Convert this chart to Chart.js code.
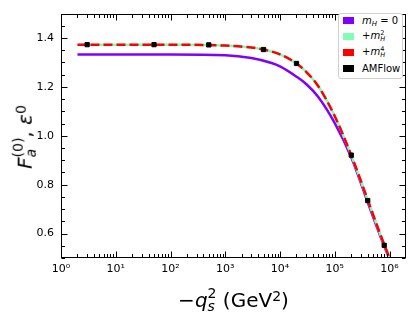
<!DOCTYPE html>
<html>
<head>
<meta charset="utf-8">
<script src="https://cdn.jsdelivr.net/npm/chart.js@4.4.1/dist/chart.umd.min.js"></script>
<style>
body { margin: 0; background: #fff; }
#wrap { position: relative; width: 415px; height: 323px; font-family: "DejaVu Sans", sans-serif; color: #000; }
.xt { position: absolute; left: 61px; width: 345px; top: 287px; text-align: center; font-size: 20px; line-height: 24px; white-space: nowrap; }
.yt { position: absolute; left: 25px; top: 137px; font-size: 20px; line-height: 24px; white-space: nowrap; transform: translate(-50%, -50%) rotate(-90deg); }
.ss { display: inline-block; vertical-align: -0.3em; font-size: 0.7em; line-height: 0.95em; text-align: left; }
.legend { position: absolute; left: 338px; top: 13px; width: 65px; height: 66px; box-sizing: border-box; border: 1px solid #d0d0d0; border-radius: 3px; background: #fff; font-size: 10px; }
.sw { position: absolute; left: 4px; width: 11px; height: 7px; }
.lab { position: absolute; left: 23px; line-height: 12px; white-space: nowrap; }
.lab sub { font-size: 0.7em; vertical-align: -0.3em; line-height: 0; }
</style>
</head>
<body>
<div id="wrap">
  <canvas id="chart" width="415" height="323"></canvas>
  <div class="yt"><i>F</i><span class="ss">(0)<br><i>a</i></span>, <i>ε</i><span class="ss" style="vertical-align:0.45em">0</span></div>
  <div class="xt">−<i>q</i><span class="ss">2<br><i>s</i></span> (GeV<span class="ss" style="vertical-align:0.45em">2</span>)</div>
  <div class="legend">
    <div class="sw" style="top:3px;background:#8000ff"></div>
    <div class="lab" style="top:1px"><i>m</i><sub><i>H</i></sub> = 0</div>
    <div class="sw" style="top:19px;background:#80ffb4"></div>
    <div class="lab" style="top:16px">+<i>m</i><span class="ss" style="font-size:0.65em">2<br><i>H</i></span></div>
    <div class="sw" style="top:35px;background:#ff0000"></div>
    <div class="lab" style="top:32px">+<i>m</i><span class="ss" style="font-size:0.65em">4<br><i>H</i></span></div>
    <div class="sw" style="top:51px;background:#000"></div>
    <div class="lab" style="top:49px">AMFlow</div>
  </div>
</div>
<script>
// m_H = 0 curve
const q2Zero = [2, 10, 100, 1000, 3000, 7000, 1e4, 2e4, 3e4, 5e4, 1e5, 2e5, 4e5, 7e5, 9.8e5];
const fZero = [1.333, 1.333, 1.333, 1.330, 1.318, 1.298, 1.284, 1.242, 1.212, 1.159, 1.052, 0.912, 0.728, 0.582, 0.500];

// +m_H^2 and +m_H^4 curves (they lie on top of each other)
const q2Mass = [2, 10, 100, 1000, 3000, 5000, 1e4, 2e4, 3e4, 5e4, 1e5, 2e5, 4e5, 7e5, 1e6];
const fMass2 = [1.373, 1.373, 1.373, 1.369, 1.361, 1.353, 1.333, 1.296, 1.262, 1.203, 1.080, 0.921, 0.738, 0.589, 0.500];
const fMass4 = [1.373, 1.373, 1.373, 1.369, 1.361, 1.353, 1.333, 1.296, 1.262, 1.203, 1.080, 0.921, 0.738, 0.589, 0.500];

// AMFlow points
const q2AMFlow = [3, 50, 500, 5000, 2e4, 2e5, 4e5, 8e5];
const fAMFlow = [1.373, 1.373, 1.372, 1.353, 1.296, 0.921, 0.735, 0.552];

const xTickPowers = [0, 1, 2, 3, 4, 5, 6];
const yTicks = [0.6, 0.8, 1.0, 1.2, 1.4];

const supDigits = "⁰¹²³⁴⁵⁶⁷⁸⁹";

function pts(xs, ys) {
    return xs.map((x, i) => ({ x: x, y: ys[i] }));
}

// box and inward ticks on all four sides
const tickPlugin = {
    id: "inTicks",
    afterDraw(chart) {
        const ctx = chart.ctx;
        const a = chart.chartArea;
        const xs = chart.scales.x, ys = chart.scales.y;
        const L = Math.round(a.left) + 0.5, R = Math.round(a.right) - 0.5;
        const T = Math.round(a.top) + 0.5, B = Math.round(a.bottom) - 0.5;
        ctx.save();
        ctx.strokeStyle = "#000";
        ctx.lineWidth = 1;
        ctx.strokeRect(L, T, R - L, B - T);

        let xMinor = [];
        for (let p = 0; p <= 6; p++) {
            for (let k = 2; k <= 9; k++) {
                let v = k * Math.pow(10, p);
                if (v < 2e6) xMinor.push(v);
            }
        }
        let yMinor = [];
        for (let i = 0; i <= 20; i++) {
            let v = 0.5 + i * 0.05;
            if (i % 4 !== 2) yMinor.push(v);
        }

        ctx.beginPath();
        xTickPowers.forEach(p => {
            let x = Math.round(xs.getPixelForValue(Math.pow(10, p))) + 0.5;
            ctx.moveTo(x, B); ctx.lineTo(x, B - 6);
            ctx.moveTo(x, T); ctx.lineTo(x, T + 6);
        });
        xMinor.forEach(v => {
            let x = Math.round(xs.getPixelForValue(v)) + 0.5;
            ctx.moveTo(x, B); ctx.lineTo(x, B - 3.5);
            ctx.moveTo(x, T); ctx.lineTo(x, T + 3.5);
        });
        yTicks.forEach(v => {
            let y = Math.round(ys.getPixelForValue(v)) + 0.5;
            ctx.moveTo(L, y); ctx.lineTo(L + 6, y);
            ctx.moveTo(R, y); ctx.lineTo(R - 6, y);
        });
        yMinor.forEach(v => {
            let y = Math.round(ys.getPixelForValue(v)) + 0.5;
            ctx.moveTo(L, y); ctx.lineTo(L + 3.5, y);
            ctx.moveTo(R, y); ctx.lineTo(R - 3.5, y);
        });
        ctx.stroke();
        ctx.restore();
    }
};

new Chart(document.getElementById("chart"), {
    type: "line",
    data: {
        datasets: [{
            label: "m_H = 0",
            data: pts(q2Zero, fZero),
            borderColor: "#8000ff",
            borderWidth: 2.5,
            pointRadius: 0,
            cubicInterpolationMode: "monotone",
            order: 3
        }, {
            label: "+m_H^2",
            data: pts(q2Mass, fMass2),
            borderColor: "#80ffb4",
            borderWidth: 2.5,
            pointRadius: 0,
            cubicInterpolationMode: "monotone",
            order: 2
        }, {
            label: "+m_H^4",
            data: pts(q2Mass, fMass4),
            borderColor: "#ff0000",
            borderWidth: 2.5,
            borderDash: [9, 4],
            pointRadius: 0,
            cubicInterpolationMode: "monotone",
            order: 1
        }, {
            label: "AMFlow",
            data: pts(q2AMFlow, fAMFlow),
            showLine: false,
            pointStyle: "rect",
            pointRadius: 3,
            pointBackgroundColor: "#000",
            pointBorderColor: "#000",
            pointBorderWidth: 1,
            order: 0
        }]
    },
    options: {
        responsive: false,
        animation: false,
        layout: { padding: { top: 8, right: 9, left: 0, bottom: 0 } },
        plugins: { legend: { display: false }, tooltip: { enabled: false } },
        scales: {
            x: {
                type: "logarithmic",
                min: 1,
                max: 2e6,
                grid: { display: false, drawTicks: false },
                border: { display: false },
                afterBuildTicks: s => { s.ticks = xTickPowers.map(p => ({ value: Math.pow(10, p) })); },
                afterFit: s => { s.height = 65; },
                ticks: {
                    autoSkip: false,
                    maxRotation: 0,
                    padding: 5,
                    color: "#000",
                    font: { family: "DejaVu Sans", size: 11 },
                    callback: v => "10" + supDigits[Math.round(Math.log10(v))]
                }
            },
            y: {
                min: 0.5,
                max: 1.5,
                grid: { display: false, drawTicks: false },
                border: { display: false },
                afterBuildTicks: s => { s.ticks = yTicks.map(v => ({ value: v })); },
                afterFit: s => { s.width = 61; },
                ticks: {
                    padding: 7,
                    color: "#000",
                    font: { family: "DejaVu Sans", size: 11 },
                    callback: v => v.toFixed(1)
                }
            }
        }
    },
    plugins: [tickPlugin]
});
</script>
</body>
</html>
